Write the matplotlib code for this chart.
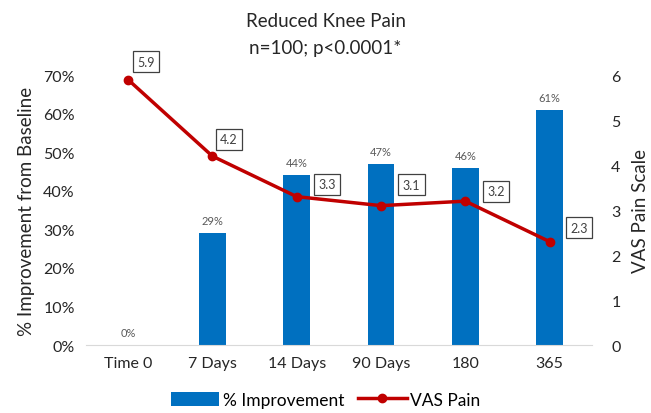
import matplotlib.pyplot as plt
import numpy as np

plt.rcParams['font.family'] = ['Lato', 'DejaVu Sans']

categories = ['Time 0', '7 Days', '14 Days', '90 Days', '180', '365']
improvement = [0, 29, 44, 47, 46, 61]          # % improvement from baseline
vas_pain = [5.9, 4.2, 3.3, 3.1, 3.2, 2.3]      # VAS pain score
# offsets (points) for the boxed VAS labels
vas_offsets = [(13, 13), (12, 12), (22, 9), (22, 15), (22, 7), (21, 10)]

blue = '#0070C0'
red = '#C00000'

fig = plt.figure(figsize=(6.51, 4.14), dpi=100)
ax = fig.add_axes([0.132, 0.164, 0.777, 0.652])
x = np.arange(len(categories))

bars = ax.bar(x, improvement, width=0.32, color=blue, label='% Improvement', zorder=2)
for xi, v in zip(x, improvement):
    ax.annotate(f'{v}%', (xi, v), xytext=(0, 5), textcoords='offset points',
                ha='center', va='bottom', fontsize=8, color='#595959')

ax.set_xlim(-0.5, len(categories) - 0.5)
ax.set_ylim(0, 70)
ax.set_yticks(np.arange(0, 71, 10))
ax.set_yticklabels([f'{t}%' for t in range(0, 71, 10)])
ax.set_xticks(x)
ax.set_xticklabels(categories)
ax.tick_params(axis='both', length=0, labelsize=11.5, colors='#262626', pad=8)
ax.set_ylabel('% Improvement from Baseline', fontsize=13.5, color='#262626', labelpad=6)
for s in ['top', 'left', 'right']:
    ax.spines[s].set_visible(False)
ax.spines['bottom'].set_color('#d9d9d9')

ax2 = ax.twinx()
line, = ax2.plot(x, vas_pain, color=red, lw=2.5, marker='o', markersize=6,
                 label='VAS Pain', zorder=3)
ax2.set_ylim(0, 6)
ax2.set_yticks(range(0, 7))
ax2.tick_params(axis='y', length=0, labelsize=11.5, colors='#262626', pad=14)
ax2.set_ylabel('VAS Pain Scale', fontsize=13.5, color='#262626', labelpad=8)
for s in ax2.spines.values():
    s.set_visible(False)

for xi, v, off in zip(x, vas_pain, vas_offsets):
    ax2.annotate(f'{v}', (xi, v), xytext=off, textcoords='offset points',
                 ha='center', va='center', fontsize=9, color='#404040',
                 bbox=dict(boxstyle='square,pad=0.35', fc='white', ec='#404040', lw=0.9))

fig.text(0.5, 0.947, 'Reduced Knee Pain', ha='center', va='center', fontsize=13.5, color='#262626')
fig.text(0.5, 0.884, 'n=100; p<0.0001*', ha='center', va='center', fontsize=13.5, color='#262626')

fig.legend([bars, line], ['% Improvement', 'VAS Pain'], loc='lower center',
           bbox_to_anchor=(0.5, -0.025), ncol=2, frameon=False, fontsize=12.5,
           handlelength=2.8, handleheight=0.9, columnspacing=0.8, handletextpad=0.2)

fig.savefig('out.png', dpi=100)
